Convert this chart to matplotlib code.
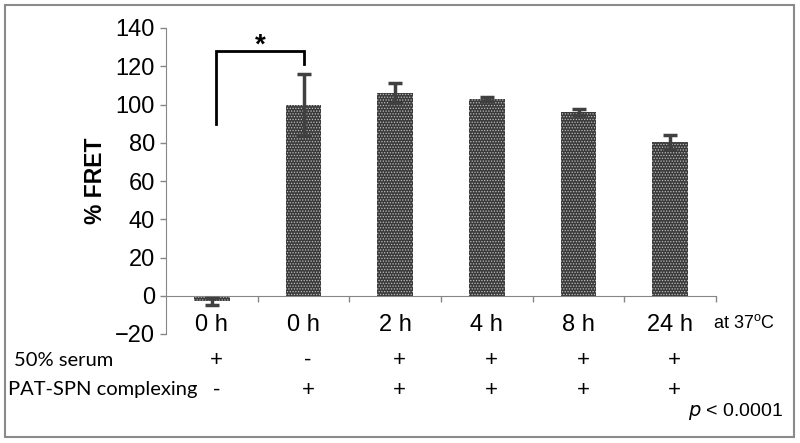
import matplotlib
matplotlib.use("Agg")
import matplotlib.pyplot as plt
import matplotlib.transforms as mtransforms
from matplotlib.patches import Rectangle

# data
time_labels = ["0 h", "0 h", "2 h", "4 h", "8 h", "24 h"]
fret_mean = [-3.0, 100.0, 106.2, 102.8, 96.1, 80.5]
fret_err = [2.0, 15.7, 5.2, 1.2, 1.8, 3.8]
serum_row = ["+", "-", "+", "+", "+", "+"]
complex_row = ["-", "+", "+", "+", "+", "+"]

plt.rcParams["font.family"] = ["Liberation Sans", "DejaVu Sans"]
plt.rcParams["hatch.linewidth"] = 0.6

W, H = 800, 443
fig = plt.figure(figsize=(W / 100, H / 100), dpi=100)
ax = fig.add_axes([166 / W, (H - 334) / H, 550 / W, 306 / H])

gray = "#868686"
x = list(range(len(fret_mean)))
ax.bar(x, fret_mean, width=0.39, facecolor="#3a3a3a", hatch="......",
       edgecolor="#bdbdbd", linewidth=0, zorder=2)
ax.errorbar(x, fret_mean, yerr=fret_err, fmt="none", ecolor="#404040",
            elinewidth=2.5, capsize=5, capthick=2.5, zorder=3)

ax.set_xlim(-0.5, 5.5)
ax.set_ylim(-20, 140)
ax.set_yticks(range(-20, 141, 20))
ax.set_xticks(x)
ax.set_xticklabels(time_labels)
ax.set_xticks([i + 0.5 for i in x], minor=True)
ax.tick_params(axis="x", which="major", length=0, pad=13, labelsize=17)
ax.tick_params(axis="x", which="minor", length=4, width=1, color=gray, direction="out")
ax.tick_params(axis="y", length=4, width=1, color=gray, labelsize=17, pad=4)

for s in ["top", "right"]:
    ax.spines[s].set_visible(False)
ax.spines["bottom"].set_position(("data", 0))
ax.spines["bottom"].set_color(gray)
ax.spines["left"].set_color(gray)

ax.set_ylabel("% FRET", fontsize=16.5, fontweight="bold", labelpad=6)

# significance bracket
ax.plot([0.05, 0.05, 1.0, 1.0], [90, 128, 128, 121], color="black",
        lw=2, solid_joinstyle="miter", clip_on=False)
ax.text(0.53, 131, "*", ha="center", va="center", fontsize=20, fontweight="bold")

fig.text(713 / W, 1 - 323 / H, r"at 37$^\mathregular{o}$C", ha="left", va="center",
         fontsize=13)

# condition table under the chart
fig.text(14 / W, 1 - 360 / H, "50% serum", ha="left", va="center",
         fontsize=14.5, family="Lato")
fig.text(8 / W, 1 - 390 / H, "PAT-SPN complexing", ha="left", va="center",
         fontsize=14.5, family="Lato")
trans = mtransforms.blended_transform_factory(ax.transData, fig.transFigure)
for i in x:
    ax.text(i + 0.05, 1 - 360 / H, serum_row[i], transform=trans,
            ha="center", va="center", fontsize=16)
    ax.text(i + 0.05, 1 - 390 / H, complex_row[i], transform=trans,
            ha="center", va="center", fontsize=16)

fig.text(783 / W, 1 - 412 / H, r"$p$ < 0.0001", ha="right", va="center",
         fontsize=14)

# outer frame
fig.patches.append(Rectangle((5 / W, 6 / H), 789 / W, 432 / H,
                             transform=fig.transFigure, fill=False,
                             edgecolor="#8a8a8a", linewidth=1.5))

fig.savefig("out.png", dpi=100)
